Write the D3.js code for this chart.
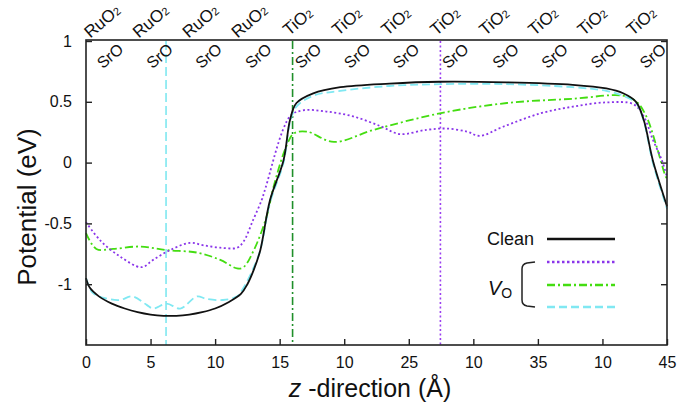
<!DOCTYPE html>
<html>
<head>
<meta charset="utf-8">
<script src="https://cdn.jsdelivr.net/npm/d3@7"></script>
<style>
  body { margin: 0; background: #fff; }
  text { font-family: "Liberation Sans", Arial, sans-serif; fill: #111; }
</style>
</head>
<body>
<div class="chart"></div>
<script>
// values (z in Angstrom, potential in eV)
var zClean = [0, 0.3, 1, 2, 3, 4, 5, 6, 7, 8, 9, 10, 11, 12, 12.5, 13, 13.5, 14.25, 15.3, 15.8, 16.3, 17.6, 19.7, 23.5, 27.4, 32.6, 37.7, 40.3, 41.6, 42.6, 43.2, 43.9, 44.85, 45];
var vClean = [-0.95, -1.03, -1.10, -1.16, -1.20, -1.23, -1.25, -1.26, -1.26, -1.25, -1.23, -1.20, -1.15, -1.08, -1.0, -0.88, -0.72, -0.31, 0.02, 0.35, 0.49, 0.57, 0.62, 0.65, 0.665, 0.66, 0.64, 0.61, 0.57, 0.5, 0.35, 0.02, -0.31, -0.36];

var zCyan = [0, 0.5, 1.3, 2.6, 3.6, 4.7, 5.2, 6.25, 7.3, 8.6, 9.3, 10.6, 11.7, 12.2, 13, 13.5, 14.25, 15.3, 15.8, 16.3, 17.6, 19.7, 23.5, 27.4, 32.6, 37.7, 40.3, 41.6, 42.6, 43.2, 43.9, 44.85, 45];
var vCyan = [-0.95, -1.07, -1.11, -1.13, -1.10, -1.17, -1.20, -1.16, -1.20, -1.10, -1.12, -1.13, -1.10, -1.03, -0.86, -0.72, -0.33, 0.0, 0.33, 0.46, 0.55, 0.59, 0.63, 0.645, 0.645, 0.62, 0.59, 0.55, 0.49, 0.34, 0.0, -0.33, -0.38];

var zPurple = [0, 1.1, 2.6, 4.3, 5.2, 6.5, 8.05, 9.1, 10.4, 11.7, 12.2, 12.95, 13.6, 13.9, 15.8, 16.8, 18.6, 20.7, 22.8, 24.3, 26.4, 27.9, 29.5, 30.5, 32.3, 35.2, 37.7, 40.3, 42.4, 43.2, 43.9, 44.6, 45];
var vPurple = [-0.49, -0.64, -0.77, -0.86, -0.80, -0.72, -0.66, -0.68, -0.70, -0.70, -0.65, -0.47, -0.31, -0.21, 0.38, 0.43, 0.42, 0.38, 0.30, 0.235, 0.27, 0.28, 0.255, 0.22, 0.295, 0.405, 0.46, 0.495, 0.48, 0.38, 0.19, 0.02, -0.12];

var zGreen = [0, 0.8, 2.1, 4.2, 6.25, 8.6, 10.4, 11.7, 12.2, 13, 14, 14.5, 15.5, 16.1, 17.1, 19.2, 22.3, 27.4, 32.6, 37.7, 41.6, 42.65, 43.4, 44.2, 44.9, 45];
var vGreen = [-0.58, -0.71, -0.71, -0.69, -0.72, -0.74, -0.80, -0.87, -0.86, -0.72, -0.44, -0.21, 0.13, 0.24, 0.255, 0.17, 0.27, 0.405, 0.49, 0.525, 0.55, 0.50, 0.38, 0.13, -0.115, -0.13];

// vacancy positions (vertical markers)
var zMarkCyan = 6.2;
var zMarkGreen = 16.0;
var zMarkPurple = 27.45;

var xTicks = [0, 5, 10, 15, 20, 25, 30, 35, 40, 45];
var xTickLabels = ["0", "5", "10", "15", "10", "25", "10", "35", "10", "45"];
var yTicks = [1, 0.5, 0, -0.5, -1];
var yTickLabels = ["1", "0.5", "0", "-0.5", "-1"];

var topLayers = ["RuO", "RuO", "RuO", "RuO", "TiO", "TiO", "TiO", "TiO", "TiO", "TiO", "TiO", "TiO"];
var topLayerZ = [1.24, 5.0, 8.85, 12.65, 16.4, 20.2, 24.0, 27.8, 31.6, 35.4, 39.2, 43.0];
var sroLayerZ = [1.86, 5.7, 9.5, 13.35, 17.2, 21.0, 24.8, 28.6, 32.5, 36.3, 40.1, 43.9];

var svgWidth = 694, svgHeight = 411;
var margin = { top: 41, right: 27, bottom: 66, left: 86 };
var width = svgWidth - margin.left - margin.right;
var height = svgHeight - margin.top - margin.bottom;

var svg = d3.select(".chart").append("svg")
    .attr("width", svgWidth)
    .attr("height", svgHeight);

var chartGroup = svg.append("g")
    .attr("transform", `translate(${margin.left}, ${margin.top})`);

var xScale = d3.scaleLinear().domain([0, 45]).range([0, width]);
var yScale = d3.scaleLinear().domain([-1.5, 1]).range([height, 0]);

// vertical markers
function vmark(z, color, dash) {
    chartGroup.append("line")
        .attr("x1", xScale(z)).attr("x2", xScale(z))
        .attr("y1", 0).attr("y2", height)
        .attr("stroke", color)
        .attr("stroke-width", 1.6)
        .attr("stroke-dasharray", dash);
}
vmark(zMarkCyan, "#7fe8f0", "9,4");
vmark(zMarkGreen, "#1f8f2a", "8,3,2,3");
vmark(zMarkPurple, "#9a3ff0", "2,2.5");

// curves
var line = d3.line()
    .x(d => xScale(d[0]))
    .y(d => yScale(d[1]))
    .curve(d3.curveCatmullRom);

function drawSeries(zs, vs, color, dash, w) {
    chartGroup.append("path")
        .datum(d3.zip(zs, vs))
        .attr("d", line)
        .attr("fill", "none")
        .attr("stroke", color)
        .attr("stroke-width", w)
        .attr("stroke-dasharray", dash);
}
drawSeries(zGreen, vGreen, "#44dd11", "8,3,2,3", 1.8);
drawSeries(zPurple, vPurple, "#8a35ea", "2,2.5", 1.8);
drawSeries(zCyan, vCyan, "#80e8f2", "8,4", 1.8);
drawSeries(zClean, vClean, "#111", null, 1.8);

// axes
var bottomAxis = d3.axisBottom(xScale)
    .tickValues(xTicks)
    .tickSize(-6)
    .tickPadding(12)
    .tickFormat((d, i) => xTickLabels[i]);
var leftAxis = d3.axisLeft(yScale)
    .tickValues(yTicks)
    .tickSize(-6)
    .tickPadding(14)
    .tickFormat((d, i) => yTickLabels[i]);
var rightAxis = d3.axisRight(yScale)
    .tickValues(yTicks)
    .tickSize(-6)
    .tickFormat("");

var gx = chartGroup.append("g")
    .attr("transform", `translate(0, ${height})`)
    .call(bottomAxis);
var gy = chartGroup.append("g").call(leftAxis);
var gr = chartGroup.append("g")
    .attr("transform", `translate(${width}, 0)`)
    .call(rightAxis);

[gx, gy, gr].forEach(function (g) {
    g.select(".domain").remove();
    g.selectAll(".tick line").attr("stroke", "#222").attr("stroke-width", 1.4);
    g.selectAll(".tick text")
        .attr("font-size", "16px")
        .attr("font-family", "Liberation Sans, Arial, sans-serif")
        .attr("fill", "#111");
});

// frame
chartGroup.append("rect")
    .attr("x", 0).attr("y", -1)
    .attr("width", width).attr("height", height + 1)
    .attr("fill", "none")
    .attr("stroke", "#222")
    .attr("stroke-width", 1.6);

// layer labels
var topG = chartGroup.selectAll(".toplayer")
    .data(topLayers)
    .enter()
    .append("text")
    .attr("class", "toplayer")
    .attr("text-anchor", "middle")
    .attr("dominant-baseline", "central")
    .attr("font-size", "17px")
    .attr("transform", (d, i) => `translate(${xScale(topLayerZ[i])}, -20) rotate(-40)`);
topG.append("tspan").text(d => d);
topG.append("tspan")
    .attr("font-size", "11px")
    .attr("dy", "2")
    .text("2");

chartGroup.selectAll(".srolayer")
    .data(sroLayerZ)
    .enter()
    .append("text")
    .attr("class", "srolayer")
    .attr("text-anchor", "middle")
    .attr("dominant-baseline", "central")
    .attr("font-size", "16px")
    .attr("transform", d => `translate(${xScale(d)}, 15) rotate(-40)`)
    .text("SrO");

// axis titles
svg.append("text")
    .attr("transform", "translate(36, 207) rotate(-90)")
    .attr("text-anchor", "middle")
    .attr("font-size", "26px")
    .text("Potential (eV)");

var xt = svg.append("text")
    .attr("x", 370)
    .attr("y", 397)
    .attr("text-anchor", "middle")
    .attr("font-size", "25px");
xt.append("tspan").attr("font-style", "italic").text("z");
xt.append("tspan").text(" -direction (Å)");

// legend
var legend = svg.append("g");
var lx1 = 547, lx2 = 615;
legend.append("text")
    .attr("x", 534).attr("y", 245)
    .attr("text-anchor", "end")
    .attr("font-size", "18px")
    .text("Clean");
legend.append("line").attr("x1", lx1).attr("x2", lx2).attr("y1", 239).attr("y2", 239)
    .attr("stroke", "#111").attr("stroke-width", 2.6);
legend.append("line").attr("x1", lx1).attr("x2", lx2).attr("y1", 262).attr("y2", 262)
    .attr("stroke", "#8a35ea").attr("stroke-width", 2.6).attr("stroke-dasharray", "2.5,2.5");
legend.append("line").attr("x1", lx1).attr("x2", lx2).attr("y1", 285).attr("y2", 285)
    .attr("stroke", "#44dd11").attr("stroke-width", 2.6).attr("stroke-dasharray", "8,3,2,3");
legend.append("line").attr("x1", lx1).attr("x2", lx2).attr("y1", 307).attr("y2", 307)
    .attr("stroke", "#80e8f2").attr("stroke-width", 2.6).attr("stroke-dasharray", "8,4");
legend.append("path")
    .attr("d", "M535,262 L527,263 Q522,264 522,269 L522,300 Q522,305 527,306 L535,307")
    .attr("fill", "none").attr("stroke", "#222").attr("stroke-width", 1.5);
var vo = legend.append("text")
    .attr("x", 488).attr("y", 295)
    .attr("font-size", "20px");
vo.append("tspan").attr("font-style", "italic").text("V");
vo.append("tspan").attr("font-size", "14px").attr("dy", "3").text("O");
</script>
</body>
</html>
